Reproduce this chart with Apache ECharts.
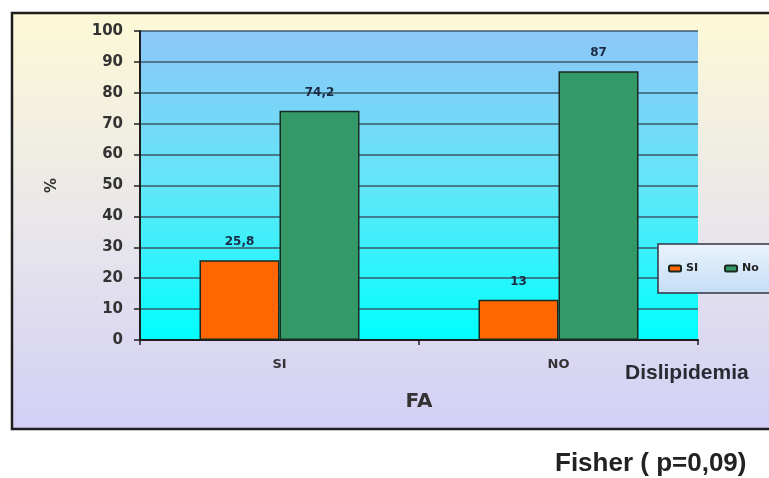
<!DOCTYPE html>
<html><head><meta charset="utf-8">
<script src="https://cdn.jsdelivr.net/npm/echarts@6/dist/echarts.min.js"></script>
<style>html,body{margin:0;padding:0;background:#fff}#c{width:769px;height:478px}</style>
</head><body><div id="c"></div>
<script>
const categories = ['SI', 'NO'];
const seriesNames = ['SI', 'No'];
const siValues = [25.8, 13];
const noValues = [74.2, 87];
const yTicks = [0, 10, 20, 30, 40, 50, 60, 70, 80, 90, 100];

const chart = echarts.init(document.getElementById('c'), null, {renderer: 'canvas'});
const fmt = p => String(p.value).replace('.', ',');
const labelStyle = {show: true, position: 'top', distance: 12, formatter: fmt,
  fontFamily: 'DejaVu Sans', fontWeight: 'bold', fontSize: 12, color: '#1c2a44'};
chart.setOption({
  animation: false,
  graphic: [
    {type: 'rect', z: -10, shape: {x: 12, y: 13, width: 800, height: 416},
      style: {stroke: '#1e1e1e', lineWidth: 2.5,
        fill: new echarts.graphic.LinearGradient(0, 0, 0, 1, [
          {offset: 0, color: '#fdf9d6'}, {offset: 0.5, color: '#e9e7ea'}, {offset: 1, color: '#d2cff6'}])}},
    {type: 'text', left: 625, top: 363, style: {text: 'Dislipidemia', fontFamily: 'Liberation Sans',
      fontWeight: 'bold', fontSize: 21, fill: '#2a2a33'}}
  ],
  title: {text: 'Fisher ( p=0,09)', left: 550, top: 446,
    textStyle: {fontFamily: 'Liberation Sans', fontWeight: 'bold', fontSize: 26, color: '#222'}},
  legend: {orient: 'horizontal', left: 658, top: 244, width: 300, itemWidth: 12, itemHeight: 6, itemGap: 26,
    padding: [19, 60, 19, 10], backgroundColor: new echarts.graphic.LinearGradient(0, 0, 0, 1, [
      {offset: 0, color: '#eaf4fc'}, {offset: 1, color: '#c4ddf6'}]),
    borderColor: '#334', borderWidth: 1.5,
    textStyle: {fontFamily: 'DejaVu Sans', fontWeight: 'bold', fontSize: 11, color: '#222'},
    data: seriesNames},
  grid: {left: 140, top: 31, right: 71, bottom: 138, show: true, borderWidth: 0,
    backgroundColor: new echarts.graphic.LinearGradient(0, 0, 0, 1, [
      {offset: 0, color: '#8ec6f8'}, {offset: 0.5, color: '#62e6f8'}, {offset: 1, color: '#00ffff'}])},
  xAxis: {type: 'category', data: categories, name: 'FA', nameLocation: 'middle', nameGap: 52,
    nameTextStyle: {fontFamily: 'DejaVu Sans', fontWeight: 'bold', fontSize: 20, color: '#333'},
    axisLine: {lineStyle: {color: '#1e1e1e', width: 2}},
    axisTick: {show: true, length: 5, lineStyle: {color: '#1e1e1e', width: 1.5}},
    axisLabel: {margin: 18, fontFamily: 'DejaVu Sans', fontWeight: 'bold', fontSize: 13, color: '#333'}},
  yAxis: {type: 'value', min: 0, max: 100, interval: 10, name: '%', nameLocation: 'middle', nameGap: 80,
    nameRotate: 90,
    nameTextStyle: {fontFamily: 'DejaVu Sans', fontWeight: 'bold', fontSize: 15, color: '#333'},
    axisLine: {show: true, lineStyle: {color: '#1e1e1e', width: 2}},
    axisTick: {show: true, length: 6, lineStyle: {color: '#1e1e1e', width: 1.5}},
    splitLine: {lineStyle: {color: '#3a5a6a', width: 1.5}},
    axisLabel: {margin: 17, fontFamily: 'DejaVu Sans', fontWeight: 'bold', fontSize: 15, color: '#333',
      formatter: v => yTicks.includes(v) ? String(v) : ''}},
  series: [
    {name: seriesNames[0], type: 'bar', data: siValues, barWidth: 80, barGap: '0%',
      itemStyle: {color: '#ff6600', borderColor: '#1a2a20', borderWidth: 1.5}, label: labelStyle},
    {name: seriesNames[1], type: 'bar', data: noValues, barWidth: 80,
      itemStyle: {color: '#339966', borderColor: '#1a2a20', borderWidth: 1.5}, label: labelStyle}
  ]
});
</script></body></html>
